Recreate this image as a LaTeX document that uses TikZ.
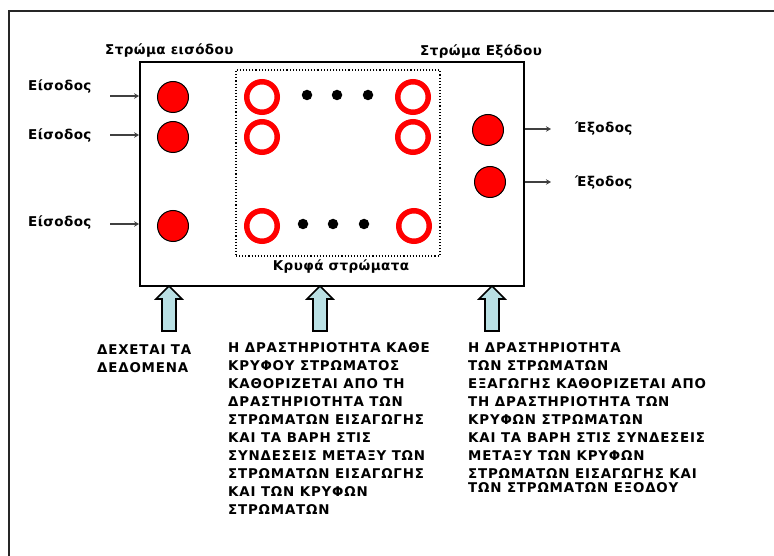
\documentclass[tikz,border=0pt]{standalone}
\usepackage{fontspec}
\setmainfont{DejaVu Sans}
\newfontfamily\lblfont{DejaVu Sans}[LetterSpace=3]
\newfontfamily\blkfont{DejaVu Sans}[LetterSpace=6]
\usetikzlibrary{arrows.meta}
\definecolor{neured}{RGB}{255,0,0}
\definecolor{arrgray}{RGB}{64,64,64}
\definecolor{arrblue}{RGB}{185,224,228}
\tikzset{
  lbl/.style={font=\lblfont\fontsize{13.5}{15}\selectfont\bfseries, inner sep=0pt},
  blocktext/.style={font=\blkfont\fontsize{13.4}{18}\selectfont\bfseries, inner sep=0pt, align=left, anchor=north west},
  fullneuron/.style={circle, draw=black, line width=1pt, fill=neured, minimum size=31pt, inner sep=0pt},
  ringneuron/.style={circle, draw=neured, line width=5.5pt, fill=white, minimum size=30.5pt, inner sep=0pt},
  dotnode/.style={circle, fill=black, minimum size=10.5pt, inner sep=0pt},
  smallarrow/.style={draw=arrgray, line width=1.6pt, -{Stealth[length=5pt,width=5.5pt]}},
  uparrow/.pic={\draw[line width=1.6pt, fill=arrblue, line join=miter]
      (0,0) -- (13,13) -- (7,13) -- (7,45) -- (-7,45) -- (-7,13) -- (-13,13) -- cycle;}
}
\begin{document}
\begin{tikzpicture}[x=1pt,y=-1pt]
\useasboundingbox (0,0) rectangle (774,556);
% outer frame (top and left edges)
\draw[line width=2.2pt, black!85] (9,556) -- (9,11) -- (774,11);
% network box and hidden-layer box
\node[draw, line width=1.8pt, minimum width=384pt, minimum height=224pt, inner sep=0pt] (net) at (332,174) {};
\node[draw, dotted, line width=1.1pt, minimum width=204pt, minimum height=186pt, inner sep=0pt] (hid) at (338,163) {};
% input neurons
\node[fullneuron] (in1) at (173,97) {};
\node[fullneuron] (in2) at (173,137) {};
\node[fullneuron] (in3) at (173,226) {};
% hidden neurons
\node[ringneuron] (h11) at (262,97) {};
\node[ringneuron] (h12) at (413,97) {};
\node[ringneuron] (h21) at (262,137) {};
\node[ringneuron] (h22) at (413,137) {};
\node[ringneuron] (h31) at (262,226) {};
\node[ringneuron] (h32) at (414,226) {};
\node[dotnode] (d1) at (307,95) {};
\node[dotnode] (d2) at (337,95) {};
\node[dotnode] (d3) at (368,95) {};
\node[dotnode] (d4) at (303,224) {};
\node[dotnode] (d5) at (333,224) {};
\node[dotnode] (d6) at (364,224) {};
% output neurons
\node[fullneuron] (out1) at (488,130) {};
\node[fullneuron] (out2) at (490,182) {};
% labels
\node[lbl, anchor=west] (li1) at (28,87) {Είσοδος};
\node[lbl, anchor=west] (li2) at (28,136) {Είσοδος};
\node[lbl, anchor=west] (li3) at (28,223) {Είσοδος};
\node[lbl, anchor=west] (lo1) at (575,129) {Έξοδος};
\node[lbl, anchor=west] (lo2) at (575,183) {Έξοδος};
\node[lbl, anchor=west] (lin) at (105,51) {Στρώμα εισόδου};
\node[lbl, anchor=west] (lout) at (420,52) {Στρώμα Εξόδου};
\node[lbl] (lhid) at (341,267) {Κρυφά στρώματα};
% small arrows
\coordinate (a1) at (110,96);
\coordinate (a2) at (110,135);
\coordinate (a3) at (110,224);
\coordinate (b1) at (551,129);
\coordinate (b2) at (551,182);
\draw[smallarrow] (a1) -- (net.west |- a1);
\draw[smallarrow] (a2) -- (net.west |- a2);
\draw[smallarrow] (a3) -- (net.west |- a3);
\draw[smallarrow] (net.east |- b1) -- (b1);
\draw[smallarrow] (net.east |- b2) -- (b2);
% block arrows
\pic at (169,286) {uparrow};
\pic at (320,286) {uparrow};
\pic at (492,286) {uparrow};
% explanatory texts
\node[blocktext] (t1) at (97,344.3) {ΔΕΧΕΤΑΙ ΤΑ\\ΔΕΔΟΜΕΝΑ};
\node[blocktext] (t2) at (228,342.3) {Η ΔΡΑΣΤΗΡΙΟΤΗΤΑ ΚΑΘΕ\\ΚΡΥΦΟΥ ΣΤΡΩΜΑΤΟΣ\\ΚΑΘΟΡΙΖΕΤΑΙ ΑΠΟ ΤΗ\\ΔΡΑΣΤΗΡΙΟΤΗΤΑ ΤΩΝ\\ΣΤΡΩΜΑΤΩΝ ΕΙΣΑΓΩΓΗΣ\\ΚΑΙ ΤΑ ΒΑΡΗ ΣΤΙΣ\\ΣΥΝΔΕΣΕΙΣ ΜΕΤΑΞΥ ΤΩΝ\\ΣΤΡΩΜΑΤΩΝ ΕΙΣΑΓΩΓΗΣ\\ΚΑΙ ΤΩΝ ΚΡΥΦΩΝ\\ΣΤΡΩΜΑΤΩΝ};
\node[blocktext] (t3) at (468,342.3) {Η ΔΡΑΣΤΗΡΙΟΤΗΤΑ\\ΤΩΝ ΣΤΡΩΜΑΤΩΝ\\ΕΞΑΓΩΓΗΣ ΚΑΘΟΡΙΖΕΤΑΙ ΑΠΟ\\ΤΗ ΔΡΑΣΤΗΡΙΟΤΗΤΑ ΤΩΝ\\ΚΡΥΦΩΝ ΣΤΡΩΜΑΤΩΝ\\ΚΑΙ ΤΑ ΒΑΡΗ ΣΤΙΣ ΣΥΝΔΕΣΕΙΣ\\ΜΕΤΑΞΥ ΤΩΝ ΚΡΥΦΩΝ\\ΣΤΡΩΜΑΤΩΝ ΕΙΣΑΓΩΓΗΣ ΚΑΙ\\[-4pt]ΤΩΝ ΣΤΡΩΜΑΤΩΝ ΕΞΟΔΟΥ};
\end{tikzpicture}
\end{document}
